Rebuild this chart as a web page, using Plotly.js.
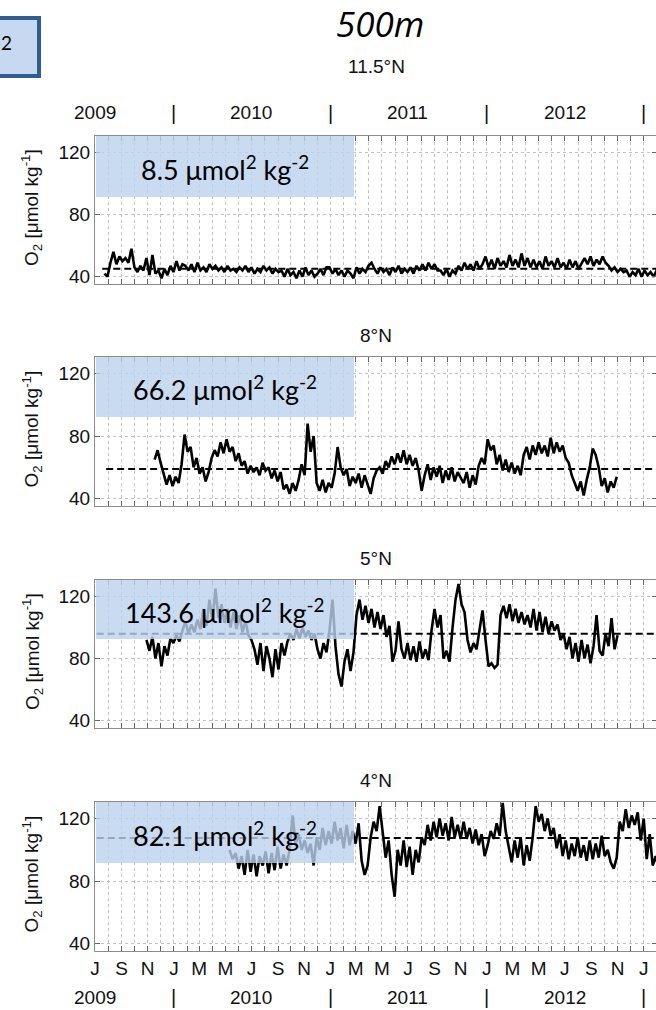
<!DOCTYPE html>
<html>
<head>
<meta charset="utf-8">
<script src="https://cdn.plot.ly/plotly-3.0.1.min.js"></script>
<style>
  html, body { margin: 0; padding: 0; overflow: hidden; background: #fff; }
  #chart { width: 660px; height: 1010px; }
</style>
</head>
<body>
<div id="chart"></div>
<script>
// Dissolved oxygen at 500 m depth on four moorings, weekly samples.
const sites = ['11.5°N', '8°N', '5°N', '4°N'];
const seriesStart = ['2009-07-23', '2009-11-17', '2009-10-29', '2010-05-11'];
const stepDays = 7;

const o2_11N = [42,40, 49,56,48,53,50,52,49, 58, 46,43,47,44, 52,41,54,42, 44,39,45,41, 47,43,50,44,48,
  47,44,48,43,49,44,46,43,48,45,47,44,46,43,47,44,45,43,46,44,47,43,46,42,45,43,47,44,46,42,45,43,
  44,40,45,41,43,39,44,40,46,41,44,40,42, 45,41,46,
  46,42,45,41,44,40,44, 42,39, 46,42,45,43,47, 49,
  45,42,46,43,45,41,46,43,47,42,45,43,46,42,47,44,
  48,44,49,45,48,44, 44,41,45,40,44,42, 47,44,49,45,48,44,50,45,48,
  53,46,51,45,52,47,50,46,54,47,51,46,55,47,52,46,
  51,46,50,45,53,47,50,46,52,46,49,45,51,46,50,45,49,
  52,48,53,47,51,48,53,49, 47,44,46,43,45,43, 44,40,43,41,45,40,44,41,43,40,44,42];

const o2_8N = [65,71,63,56,49,55,48,54,50,62,81,70,73,60,66,56,60,51,57,66,71,67,76,69,78,70,73,64,69,61,
  64,56,61,57,60,55,63,58,60,53,58,51,57,46,49,43,50,45,52,62,55,88,70,80,50,45,52,44,50,47,
  56,73,60,55,59,48,54,50,56,47,55,49,43,53,58,60,56,64,60,67,62,69,63,71,62,68,61,66,58,45,
  55,62,52,60,54,61,50,58,52,60,51,57,53,50,57,47,55,49,61,66,62,78,71,74,62,68,58,65,57,63,
  56,61,55,68,73,65,74,68,76,69,74,67,79,69,76,70,74,66,63,55,50,45,51,42,52,60,72,68,60,48,
  53,44,51,47,54];

const o2_5N = [92,85,94,80,90,75,88,82,93,90,95,91,
  98,104,96,102,97,105,99,112,101,118,104,125,106,115,103,112,100,110,99,108,97,104,95,92,
  86,76,90,72,88,80,68,86,73,90,82,91, 96,92,99,93,100,94,98,92,96, 86,80,90,84,
  98,118,88,70,62,78,86,72,84,108,118,105,114,103,112,100,110,99,108,94,101,78,85,104,86,80,90,79,88,78,
  91,80,86,79,98,112,100,108,80,85,78,100,118,128,115,110,92,84,90,86,98,111,92,75,77,74,76,
  108,114,106,115,104,112,103,110,102,108,100,112,98,110,97,107,96,104,98,102,92,96,86,94,80,90,
  78,92,80,89,77,88,108,85,82,96,88,106,86,95];

const o2_4N = [100,94,98,88,96,84,100,86,97,83,96,90,99,85,98,87,102,88,97,90,
  100,122,104,110,100,106,98,104,90,108,100,114,103,112,104,118,106,114,101,116,
  103,112,104,117,93,84,90,108,118,112,128,110,95,106,84,70,100,90,106,89,
  102,84,100,92,108,103,116,106,118,108,120,109,117,106,121,108,116,107,118,107,
  114,104,113,103,110,96,103,112,107,117,109,130,112,102,92,106,95,108,90,103,
  93,108,128,118,123,112,120,109,114,101,110,96,106,94,104,96,108,95,103,93,
  106,94,104,95,109,96,100,92,88,95,118,112,126,114,122,116,124,106,120,94,110,90,96,88];

const o2Series = [o2_11N, o2_8N, o2_5N, o2_4N];
const meanO2 = [45.2, 59.0, 96.0, 107.6];
const meanStart = ['2009-07-18', '2009-07-27', '2009-07-05', '2009-07-05'];
const variance = ['8.5', '66.2', '143.6', '82.1'];
const years = ['2009', '2010', '2011', '2012'];
const monthInitials = ['J','F','M','A','M','J','J','A','S','O','N','D'];

const xRange = ['2009-07-01', '2013-02-01'];

function addDays(iso, n) {
  const d = new Date(iso + 'T00:00:00Z');
  d.setUTCDate(d.getUTCDate() + n);
  return d.toISOString().slice(0, 10);
}

// labelled ticks every second month, minor ticks on the months between
const monthTicks = [], monthText = [], minorTicks = [];
for (let k = 0; k <= 42; k++) {
  const y = 2009 + Math.floor((6 + k) / 12), m = (6 + k) % 12;
  const iso = `${y}-${String(m + 1).padStart(2, '0')}-01`;
  if (k % 2 === 0) { monthTicks.push(iso); monthText.push(monthInitials[m]); }
  else minorTicks.push(iso);
}

// figure geometry (pixels)
const W = 660, H = 1010;
const px = v => v / W, py = v => 1 - v / H;
const panelTop = [136, 357, 580, 802];
const panelBottom = [284, 506, 728, 951];
const boxBottom = [197, 417, 639, 863];
const siteLabelY = [66, 335, 558, 780];
const plotLeft = 95, plotRight = 657;

const FONT = 'Liberation Sans, Arial, sans-serif';
const GRID = {gridcolor: '#c2c2c2', griddash: 'dot', gridwidth: 1};
const traces = [];
const layout = {
  width: W, height: H,
  margin: {l: 0, r: 0, t: 0, b: 0},
  paper_bgcolor: '#fff', plot_bgcolor: '#fff',
  showlegend: false,
  shapes: [], annotations: []
};

o2Series.forEach((vals, i) => {
  const n = i + 1;
  const xa = n === 1 ? 'x' : 'x' + n, ya = n === 1 ? 'y' : 'y' + n;
  const dates = vals.map((_, j) => addDays(seriesStart[i], j * stepDays));

  traces.push({
    type: 'scatter', mode: 'lines', x: dates, y: vals, xaxis: xa, yaxis: ya,
    line: {color: '#000', width: 2.6, shape: 'linear'}, hoverinfo: 'skip'
  });
  traces.push({
    type: 'scatter', mode: 'lines', x: [meanStart[i], xRange[1]], y: [meanO2[i], meanO2[i]],
    xaxis: xa, yaxis: ya, line: {color: '#000', width: 2, dash: '7px,4px'}, hoverinfo: 'skip'
  });

  layout['xaxis' + (n === 1 ? '' : n)] = Object.assign({
    type: 'date', range: xRange, domain: [px(plotLeft), px(plotRight)], anchor: ya,
    tickmode: 'array', tickvals: monthTicks, ticktext: monthText,
    showticklabels: n === 4,
    tickfont: {family: FONT, size: 19, color: '#111'},
    ticks: 'inside', ticklen: 5, tickcolor: '#666', tickwidth: 1,
    showline: true, linecolor: '#8c8c8c', linewidth: 1, mirror: 'ticks',
    showgrid: true, zeroline: false, fixedrange: true,
    minor: Object.assign({tickmode: 'array', tickvals: minorTicks, ticks: 'inside', ticklen: 5,
      tickcolor: '#666', tickwidth: 1, showgrid: true}, GRID)
  }, GRID);
  layout['yaxis' + (n === 1 ? '' : n)] = Object.assign({
    range: [35.3, 130.6], domain: [py(panelBottom[i]), py(panelTop[i])], anchor: xa,
    tickmode: 'array', tickvals: [40, 80, 120],
    tickfont: {family: FONT, size: 19, color: '#111'},
    ticks: 'inside', ticklen: 5, tickcolor: '#666', tickwidth: 1,
    showline: true, linecolor: '#8c8c8c', linewidth: 1, mirror: 'ticks',
    showgrid: true, zeroline: false, fixedrange: true
  }, GRID);

  // variance box over the early part of each record
  layout.shapes.push({
    type: 'rect', xref: 'paper', yref: 'paper', layer: 'above',
    x0: px(plotLeft + 1), x1: px(354), y0: py(boxBottom[i]), y1: py(panelTop[i]),
    fillcolor: 'rgba(188,210,238,0.8)', line: {width: 0}
  });
  layout.annotations.push({
    xref: 'paper', yref: 'paper', x: px(225), y: py((panelTop[i] + boxBottom[i]) / 2 + 1),
    xanchor: 'center', yanchor: 'middle', showarrow: false,
    text: `${variance[i]} μmol<sup>2</sup> kg<sup>-2</sup>`,
    font: {family: 'Lato, Open Sans, sans-serif', size: 27, color: '#000'}
  });
  layout.annotations.push({
    xref: 'paper', yref: 'paper', x: px(376), y: py(siteLabelY[i]),
    xanchor: 'center', yanchor: 'middle', showarrow: false, text: sites[i],
    font: {family: FONT, size: 19, color: '#111'}
  });
  layout.annotations.push({
    xref: 'paper', yref: 'paper', x: px(32), y: py((panelTop[i] + panelBottom[i]) / 2 - 2),
    xanchor: 'center', yanchor: 'middle', showarrow: false, textangle: -90,
    text: 'O<sub>2</sub> [μmol kg<sup>-1</sup>]',
    font: {family: FONT, size: 19, color: '#111'}
  });
});

// year row above the first panel and below the last one
[113, 997].forEach(yy => {
  years.forEach(yr => {
    layout.annotations.push({
      xref: 'x', yref: 'paper', x: `${yr}-07-01`, y: py(yy), xanchor: 'center', yanchor: 'middle',
      showarrow: false, text: yr, font: {family: FONT, size: 19, color: '#111'}
    });
    layout.annotations.push({
      xref: 'x', yref: 'paper', x: `${+yr + 1}-01-01`, y: py(yy), xanchor: 'center', yanchor: 'middle',
      showarrow: false, text: '|', font: {family: FONT, size: 20, color: '#111'}
    });
  });
});

// depth heading
layout.annotations.push({
  xref: 'paper', yref: 'paper', x: px(380), y: py(23), xanchor: 'center', yanchor: 'middle',
  showarrow: false, text: '500m',
  font: {family: 'Open Sans, sans-serif', size: 35, style: 'italic', color: '#000'}
});

// edge of the neighbouring label box
layout.shapes.push({
  type: 'rect', xref: 'paper', yref: 'paper', layer: 'above',
  x0: px(-12), x1: px(39), y0: py(76), y1: py(18),
  fillcolor: '#c6d9f1', line: {color: '#2f5f92', width: 4}
});
layout.annotations.push({
  xref: 'paper', yref: 'paper', x: px(14), y: py(42), xanchor: 'right', yanchor: 'middle',
  showarrow: false, text: '-2', font: {family: 'Lato, Open Sans, sans-serif', size: 19, color: '#000'}
});

Plotly.newPlot('chart', traces, layout, {staticPlot: true, displayModeBar: false});
</script>
</body>
</html>
